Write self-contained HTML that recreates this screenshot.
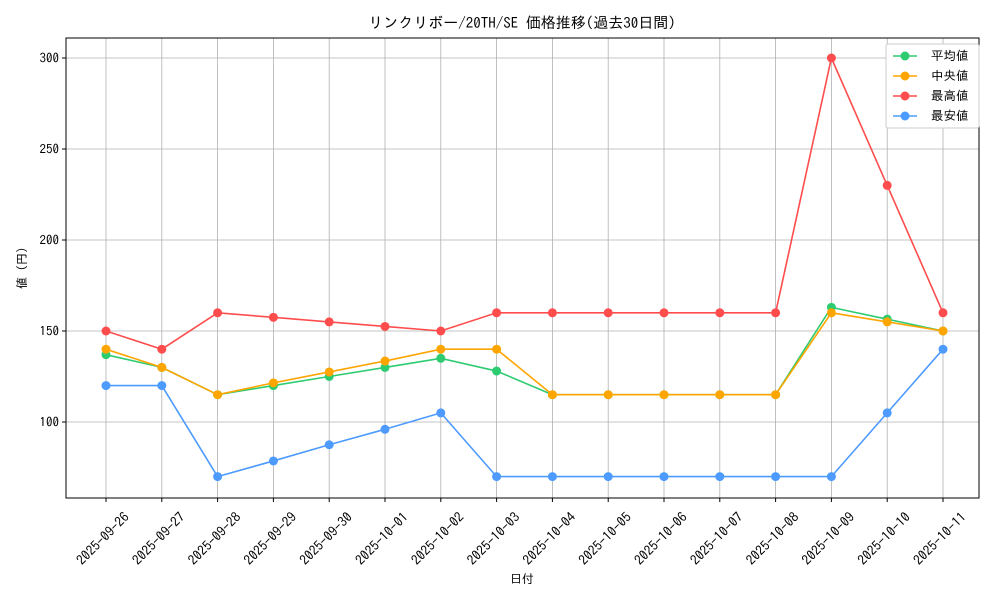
<!DOCTYPE html>
<html><head><meta charset="utf-8"><style>
body{margin:0;background:#fff}
svg{display:block;font-family:"IPAGothic","Liberation Sans","Noto Sans CJK JP",sans-serif}
</style></head><body>
<svg id="chart" width="1000" height="600" viewBox="0 0 1000 600" xmlns="http://www.w3.org/2000/svg">
<text x="522" y="28" font-size="15" text-anchor="middle">リンクリボー/20TH/SE 価格推移(過去30日間)</text>
<text x="522" y="583" font-size="12" text-anchor="middle">日付</text>
<text transform="translate(26,268) rotate(-90)" font-size="12" text-anchor="middle">値 (円)</text>
<g id="grid"></g><g id="axes"></g><g id="series"></g>
<g id="legend"></g>
</svg>
<script>
const dates=["2025-09-26","2025-09-27","2025-09-28","2025-09-29","2025-09-30","2025-10-01","2025-10-02","2025-10-03","2025-10-04","2025-10-05","2025-10-06","2025-10-07","2025-10-08","2025-10-09","2025-10-10","2025-10-11"];
const meanVals=[137,130,115,120,125,130,135,128,115,115,115,115,115,163,156.5,150];
const medianVals=[140,130,115,121.5,127.5,133.5,140,140,115,115,115,115,115,160,155,150];
const maxVals=[150,140,160,157.5,155,152.5,150,160,160,160,160,160,160,300,230,160];
const minVals=[120,120,70,78.6,87.5,96,105,70,70,70,70,70,70,70,105,140];
const yTicks=[100,150,200,250,300];
const seriesNames=["平均値","中央値","最高値","最安値"];
const NS="http://www.w3.org/2000/svg";
const L=66,R=979,T=38,B=498;
const xS=i=>106+i*(943-106)/(dates.length-1);
const yS=v=>58+(300-v)*91/50;
function mk(tag,attrs,parent){const e=document.createElementNS(NS,tag);for(const k in attrs)e.setAttribute(k,attrs[k]);parent.appendChild(e);return e;}
const grid=document.getElementById('grid'),axes=document.getElementById('axes'),ser=document.getElementById('series');
dates.forEach((d,i)=>{const x=xS(i);
 const g=mk('line',{x1:x,x2:x,y1:T,y2:B,stroke:'#b0b0b0','stroke-width':0.8},grid);
 
 mk('line',{x1:x,x2:x,y1:B,y2:B+4,stroke:'#000'},axes);
 const t=mk('text',{transform:`translate(${x+24},${B+20}) rotate(-45)`,'font-size':13.5,'text-anchor':'end'},axes);
 t.textContent=d;});
yTicks.forEach(v=>{const y=yS(v);
 const g=mk('line',{x1:L,x2:R,y1:y,y2:y,stroke:'#b0b0b0','stroke-width':0.8},grid);
 
 mk('line',{x1:L-4,x2:L,y1:y,y2:y,stroke:'#000'},axes);
 const t=mk('text',{x:L-7,y:y+4.5,'font-size':13,'text-anchor':'end'},axes);
 t.textContent=v;});
const frame=mk('rect',{x:L,y:T,width:R-L,height:B-T,fill:'none',stroke:'#000','stroke-width':1},axes);

const all=[[meanVals,'#2ecc71','mean'],[medianVals,'#ffa500','median'],[maxVals,'#ff4d4d','max'],[minVals,'#4d9bff','min']];
all.forEach(([vals,c,n])=>{const g=mk('g',{},ser);
 
 mk('polyline',{points:vals.map((v,i)=>xS(i)+','+yS(v)).join(' '),fill:'none',stroke:c,'stroke-width':1.6},g);
 vals.forEach((v,i)=>{const p=mk('circle',{cx:xS(i),cy:yS(v),r:4.5,fill:c},g);
  });});
const lg=document.getElementById('legend');
mk('rect',{x:886,y:44,width:93,height:84,fill:'#fff',stroke:'#ccc',rx:2},lg);
all.forEach(([v,c,n],i)=>{const y=56+i*20;
 const e=mk('g',{},lg);
 mk('line',{x1:893,x2:917,y1:y,y2:y,stroke:c,'stroke-width':1.6},e);
 mk('circle',{cx:905,cy:y,r:4.5,fill:c},e);
 const t=mk('text',{x:931,y:y+4,'font-size':12.5},e);t.textContent=seriesNames[i];});
</script>
</body></html>
